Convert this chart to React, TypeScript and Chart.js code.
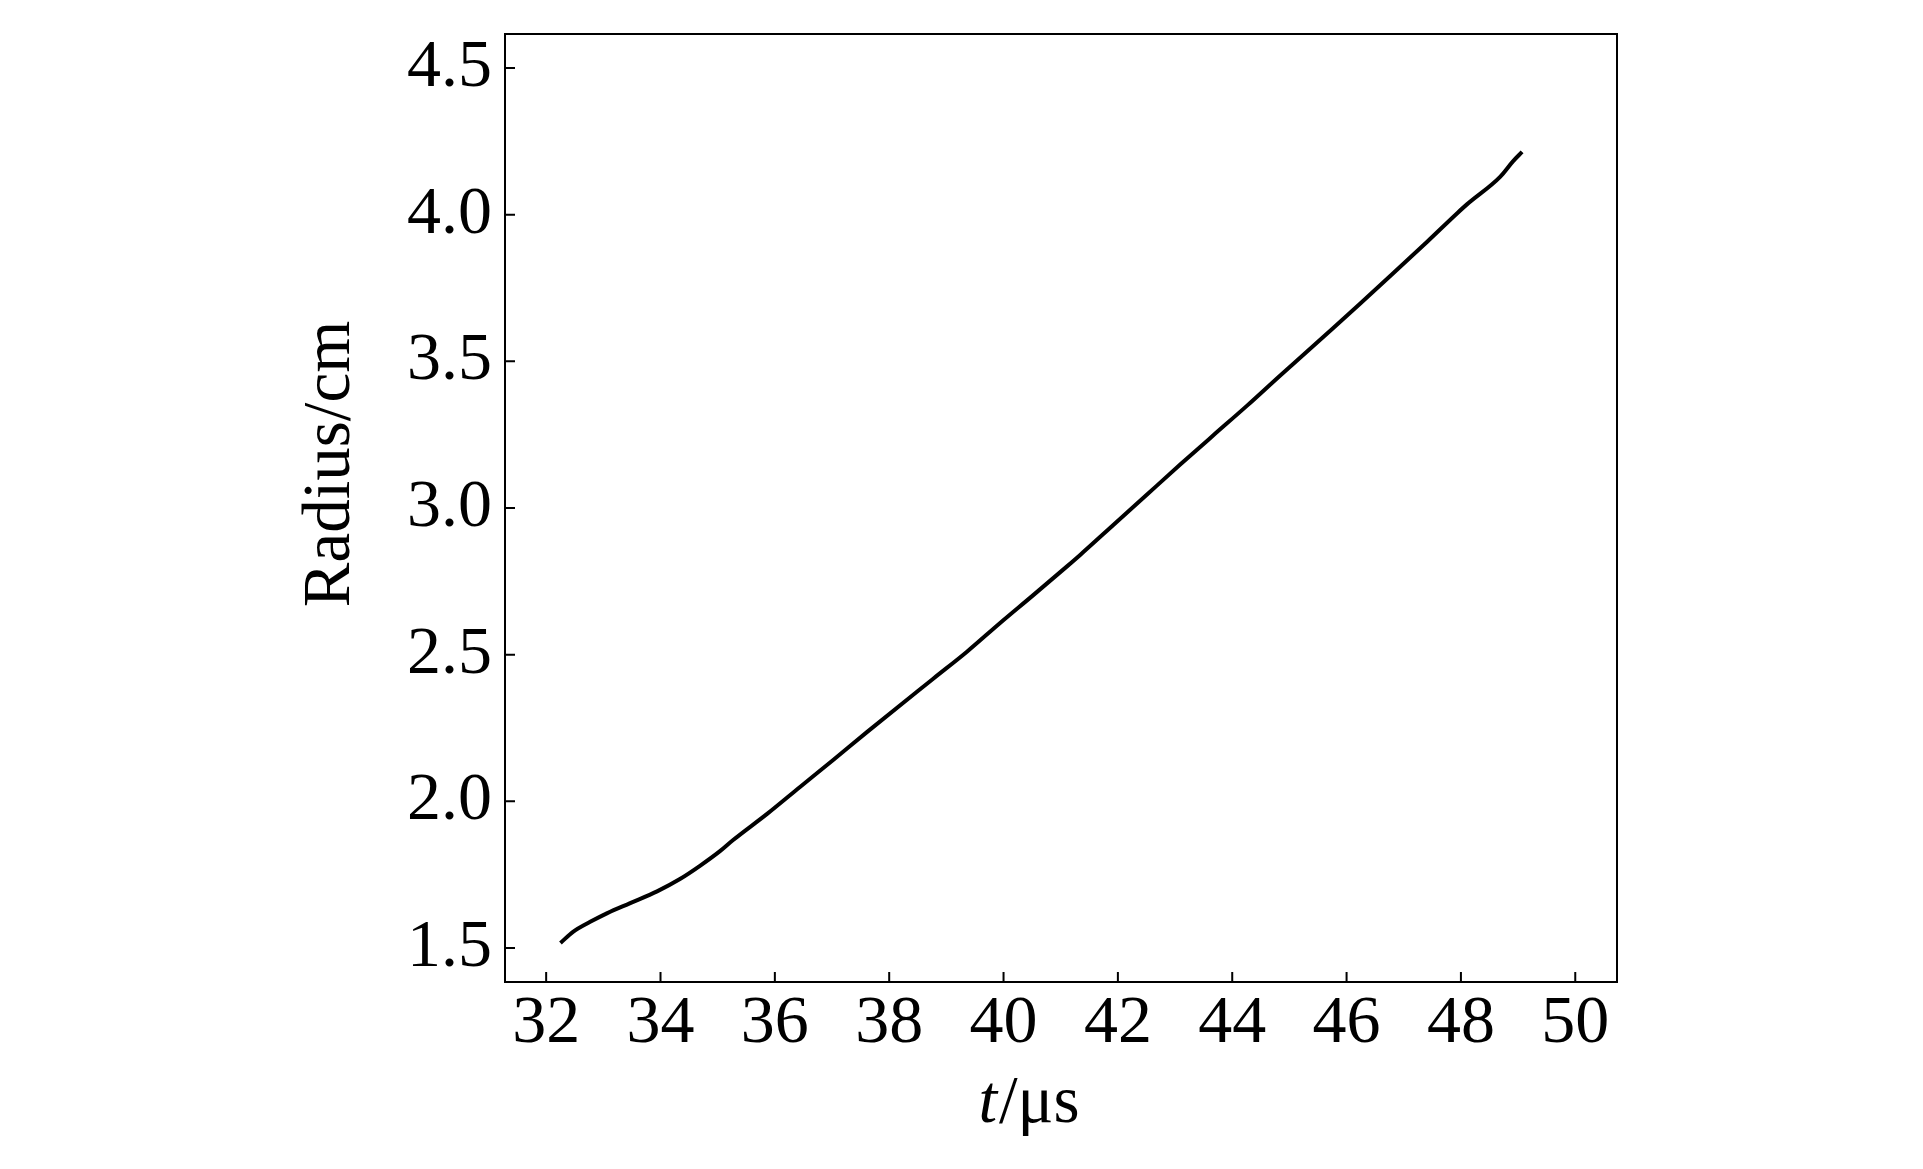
import React, { useEffect, useRef } from "react";
import { Chart, registerables } from "chart.js";

Chart.register(...registerables);

const timeUs = [
  32.25, 32.47, 32.77, 33.07, 33.47, 33.94, 34.34, 34.69, 35.04, 35.27, 35.87, 36.44, 37.02, 37.61,
  38.77, 39.36, 39.94, 40.52, 41.11, 41.34, 41.92, 42.51, 43.09, 43.67, 44.26, 44.84, 45.07, 45.66,
  46.24, 46.82, 47.41, 47.94, 48.11, 48.69, 48.91, 49.07,
];
const radiusCm = [
  1.517, 1.555, 1.589, 1.619, 1.653, 1.693, 1.735, 1.78, 1.83, 1.868, 1.958, 2.049, 2.141, 2.236,
  2.418, 2.51, 2.608, 2.703, 2.801, 2.84, 2.942, 3.046, 3.148, 3.248, 3.349, 3.452, 3.492, 3.595,
  3.697, 3.801, 3.908, 4.006, 4.036, 4.13, 4.182, 4.214,
];
const xTicks = [32, 34, 36, 38, 40, 42, 44, 46, 48, 50];
const yTicks = [1.5, 2.0, 2.5, 3.0, 3.5, 4.0, 4.5];
const yTitle = "Radius/cm";
const xTitleItalic = "t";
const xTitleRest = "/μs";

const FONT = "'Liberation Serif', 'DejaVu Serif', serif";

const framePlugin = {
  id: "frame",
  afterDraw(chart: any) {
    const { ctx, chartArea: a, scales } = chart;
    ctx.save();
    ctx.strokeStyle = "#000";
    ctx.lineWidth = 2;
    ctx.strokeRect(a.left, a.top, a.right - a.left, a.bottom - a.top);
    const tl = 10;
    ctx.beginPath();
    for (const v of xTicks) {
      const px = scales.x.getPixelForValue(v);
      ctx.moveTo(px, a.bottom);
      ctx.lineTo(px, a.bottom - tl);
    }
    for (const v of yTicks) {
      const py = scales.y.getPixelForValue(v);
      ctx.moveTo(a.left, py);
      ctx.lineTo(a.left + tl, py);
    }
    ctx.stroke();

    // y title
    ctx.fillStyle = "#000";
    ctx.font = `67px ${FONT}`;
    ctx.textAlign = "center";
    ctx.textBaseline = "middle";
    ctx.save();
    ctx.translate(a.left - 174, (a.top + a.bottom) / 2 - 44);
    ctx.rotate(-Math.PI / 2);
    ctx.fillText(yTitle, 0, 0);
    ctx.restore();

    // x title
    const cx = (a.left + a.right) / 2 - 33;
    const by = a.bottom + 140;
    ctx.textBaseline = "alphabetic";
    ctx.textAlign = "left";
    ctx.font = `italic 67px ${FONT}`;
    const w1 = ctx.measureText(xTitleItalic).width;
    ctx.font = `67px ${FONT}`;
    const w2 = ctx.measureText(xTitleRest).width;
    const sx = cx - (w1 + w2) / 2;
    ctx.font = `italic 67px ${FONT}`;
    ctx.fillText(xTitleItalic, sx, by);
    ctx.font = `67px ${FONT}`;
    ctx.fillText(xTitleRest, sx + w1 + 2, by);
    ctx.restore();
  },
};

export default function App() {
  const ref = useRef<HTMLCanvasElement>(null);
  useEffect(() => {
    if (!ref.current) return;
    const chart = new Chart(ref.current, {
      type: "line",
      data: {
        datasets: [
          {
            data: timeUs.map((t, i) => ({ x: t, y: radiusCm[i] })),
            borderColor: "#000",
            borderWidth: 4,
            pointRadius: 0,
            tension: 0.3,
            cubicInterpolationMode: "monotone",
            fill: false,
          },
        ],
      },
      options: {
        animation: false,
        responsive: false,
        maintainAspectRatio: false,
        layout: { padding: { left: 0, right: 306, top: 34, bottom: 0 } },
        plugins: { legend: { display: false }, tooltip: { enabled: false } },
        scales: {
          x: {
            type: "linear",
            min: 31.28,
            max: 50.73,
            afterBuildTicks: (s: any) => {
              s.ticks = xTicks.map((v) => ({ value: v }));
            },
            afterFit: (s: any) => {
              s.height = 187;
              s.paddingLeft = 0;
              s.paddingRight = 0;
              s.paddingTop = 0;
              s.paddingBottom = 0;
            },
            grid: { display: false },
            border: { display: false },
            ticks: {
              color: "#000",
              font: { family: FONT, size: 68 },
              padding: -7,
              maxRotation: 0,
              autoSkip: false,
              callback: (v: any) => String(v),
            },
          },
          y: {
            type: "linear",
            min: 1.384,
            max: 4.616,
            afterBuildTicks: (s: any) => {
              s.ticks = yTicks.map((v) => ({ value: v }));
            },
            afterFit: (s: any) => {
              s.width = 505;
              s.paddingLeft = 0;
              s.paddingRight = 0;
              s.paddingTop = 0;
              s.paddingBottom = 0;
            },
            grid: { display: false },
            border: { display: false },
            ticks: {
              color: "#000",
              font: { family: FONT, size: 68 },
              padding: 5,
              autoSkip: false,
              callback: (v: any) => Number(v).toFixed(1),
            },
          },
        },
      },
      plugins: [framePlugin],
    });
    return () => chart.destroy();
  }, []);
  return (
    <div style={{ position: "fixed", left: 0, top: 0, width: 1923, height: 1169, background: "#fff" }}>
      <canvas ref={ref} width={1923} height={1169} style={{ width: 1923, height: 1169, display: "block" }} />
    </div>
  );
}
